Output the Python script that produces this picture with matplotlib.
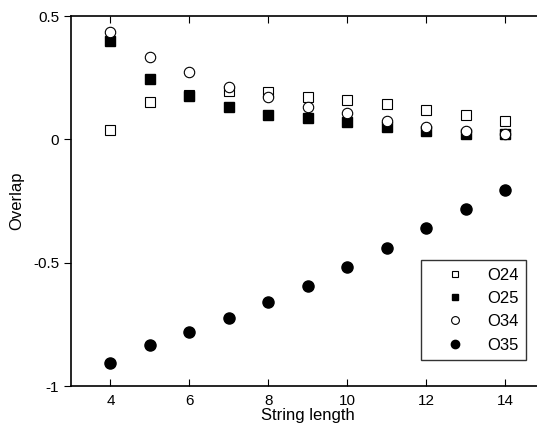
import matplotlib.pyplot as plt

plt.rcParams['font.family'] = ['Liberation Sans', 'DejaVu Sans']

length = [4, 5, 6, 7, 8, 9, 10, 11, 12, 13, 14]
o24 = [0.036, 0.15, 0.18, 0.197, 0.19, 0.173, 0.16, 0.145, 0.12, 0.10, 0.075]
o25 = [0.40, 0.246, 0.175, 0.133, 0.10, 0.085, 0.072, 0.052, 0.034, 0.022, 0.02]
o34 = [0.435, 0.335, 0.274, 0.214, 0.17, 0.133, 0.105, 0.073, 0.052, 0.032, 0.02]
o35 = [-0.907, -0.835, -0.782, -0.726, -0.661, -0.593, -0.516, -0.44, -0.359, -0.282, -0.206]

fig = plt.figure(figsize=(5.37, 4.30), dpi=100)
ax = fig.add_axes([71 / 537, 44 / 430, (544.5 - 71) / 537, (386 - 16) / 430])

ax.plot(length, o24, 's', ms=6.5, mfc='white', mec='black', mew=0.8, ls='none', label='O24')
ax.plot(length, o25, 's', ms=6.5, mfc='black', mec='black', ls='none', label='O25')
ax.plot(length, o34, 'o', ms=7.5, mfc='white', mec='black', mew=0.8, ls='none', label='O34')
ax.plot(length, o35, 'o', ms=8, mfc='black', mec='black', ls='none', label='O35')

ax.set_xlim(3, 15)
ax.set_ylim(-1, 0.5)
ax.set_xticks([4, 6, 8, 10, 12, 14])
ax.set_yticks([-1, -0.5, 0, 0.5])
ax.set_yticklabels(['-1', '-0.5', '0', '0.5'])
ax.tick_params(axis='x', direction='in', top=True, length=5, labelsize=11, pad=6)
ax.tick_params(axis='y', direction='out', length=5, labelsize=11)
for s in ['left', 'bottom', 'top']:
    ax.spines[s].set_linewidth(1.2)
ax.spines['right'].set_visible(False)

ax.set_xlabel('String length', fontsize=12, labelpad=0)
ax.set_ylabel('Overlap', fontsize=12, labelpad=6)

leg = ax.legend(loc='lower right', bbox_to_anchor=((526 - 71) / (544.5 - 71), (386 - 360) / 370),
                borderaxespad=0, fontsize=12, frameon=True, fancybox=False, edgecolor='black',
                markerscale=0.75, handletextpad=0.3, borderpad=0.45, labelspacing=0.5,
                handlelength=3.2)
leg.get_frame().set_linewidth(1.0)

fig.savefig('out.png', dpi=100)
